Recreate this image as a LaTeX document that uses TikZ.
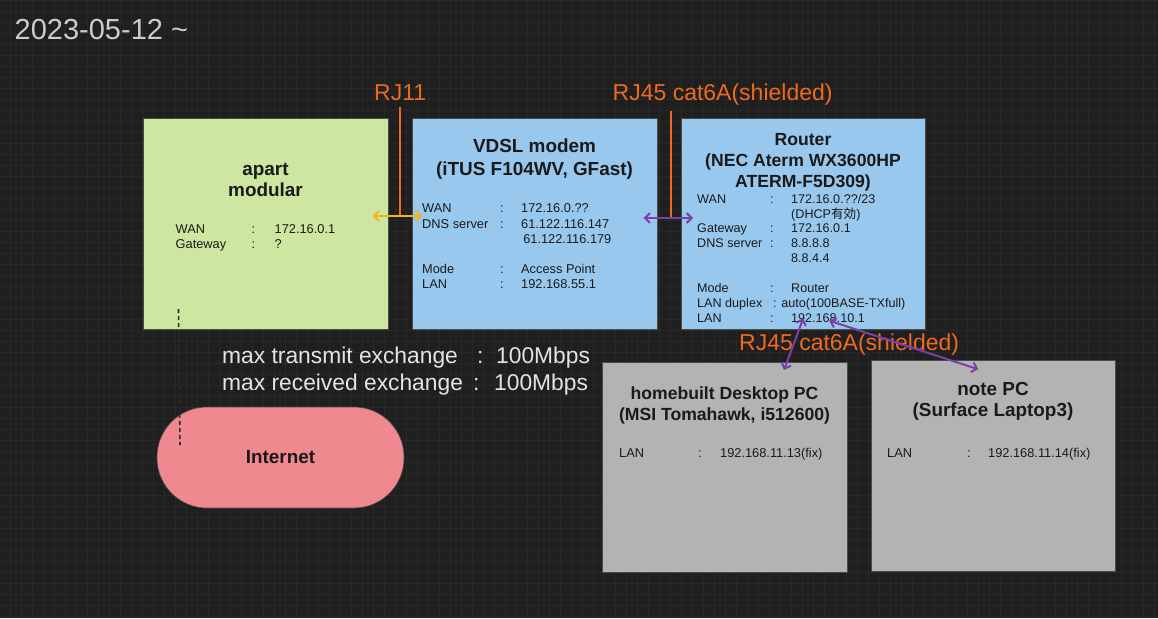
\documentclass[tikz,border=0pt]{standalone}
\usepackage{fontspec}
\usepackage{array}
\setmainfont{Liberation Sans}
\newfontfamily\cjk{Noto Sans CJK JP}
\usetikzlibrary{arrows.meta}

\definecolor{bg}{HTML}{1F1F1F}
\definecolor{gridc}{HTML}{282828}
\definecolor{greenbox}{HTML}{CDE6A0}
\definecolor{bluebox}{HTML}{99C8EE}
\definecolor{graybox}{HTML}{B3B3B3}
\definecolor{pinkbox}{HTML}{F0888F}
\definecolor{orangec}{HTML}{EE6A1F}
\definecolor{purplec}{HTML}{7B3FA8}
\definecolor{yellowc}{HTML}{F4B41A}
\definecolor{titlec}{HTML}{CCCCCC}
\definecolor{notec}{HTML}{E4E4E4}
\definecolor{inkc}{HTML}{1A1A1A}
\definecolor{dashc}{HTML}{2C2C2C}
\definecolor{edgec}{HTML}{4A4A4A}

\tikzset{
  boxnode/.style={draw=edgec, line width=0.6pt, inner sep=0pt, outer sep=0pt, anchor=north west},
  ttl/.style={text=inkc, font=\fontsize{18.9}{21.7}\selectfont\bfseries, anchor=base, inner sep=0pt},
  info/.style={text=inkc, font=\fontsize{12.8}{15.2}\selectfont, anchor=base west, inner sep=0pt},
  rjlabel/.style={text=orangec, font=\fontsize{23}{27}\selectfont, anchor=base west, inner sep=0pt},
  biarrow/.style={line width=2pt, {Straight Barb[length=5pt,width=10pt]}-{Straight Barb[length=5pt,width=10pt]}},
  tapline/.style={draw=orangec, line width=2pt},
  gridln/.style={draw=gridc, line width=0.7pt},
  hiddendash/.style={draw=dashc, line width=1.6pt, dash pattern=on 4pt off 3pt},
}

\begin{document}
\begin{tikzpicture}[x=1pt,y=-1pt]
\useasboundingbox (0,0) rectangle (1158,618);
\fill[bg] (0,0) rectangle (1158,618);
\foreach \k in {0,...,105} {\draw[gridln] (10+11*\k,0) -- (10+11*\k,618);}
\foreach \k in {0,...,56} {\draw[gridln] (0,11*\k) -- (1158,11*\k);}

% date
\node[anchor=base west, text=titlec, font=\fontsize{29}{34}\selectfont, inner sep=0pt] (date) at (14.5,39.5) {2023-05-12 \textasciitilde};

% boxes
\node[boxnode, fill=greenbox, minimum width=245pt, minimum height=210.5pt] (apart) at (143,118.5) {};
\node[boxnode, fill=bluebox, minimum width=245pt, minimum height=210.5pt] (vdsl) at (412,118.5) {};
\node[boxnode, fill=bluebox, minimum width=244pt, minimum height=211pt] (router) at (681,118.5) {};
\node[boxnode, fill=graybox, minimum width=245pt, minimum height=210pt] (desk) at (602,362) {};
\node[boxnode, fill=graybox, minimum width=244pt, minimum height=211pt] (note) at (871,360) {};
\node[draw=edgec, line width=0.6pt, fill=pinkbox, rounded corners=50pt, minimum width=247pt, minimum height=101pt, inner sep=0pt, text=inkc, font=\fontsize{18.9}{22}\selectfont\bfseries] (inet) at (280.5,457.5) {Internet};

% titles
\node[ttl] (apartT) at (265.5,175.1) {\begin{tabular}[t]{@{}c@{}}apart\\modular\end{tabular}};
\node[ttl, font=\fontsize{18.9}{22.3}\selectfont\bfseries] (vdslT) at (534.5,152.8) {\begin{tabular}[t]{@{}c@{}}VDSL modem\\(iTUS F104WV, GFast)\end{tabular}};
\node[ttl, font=\fontsize{17.6}{20.7}\selectfont\bfseries] (routerT) at (803,145.6) {\begin{tabular}[t]{@{}c@{}}Router\\(NEC Aterm WX3600HP\\ATERM-F5D309)\end{tabular}};
\node[ttl, font=\fontsize{17.6}{21.6}\selectfont\bfseries] (deskT) at (724.5,399) {\begin{tabular}[t]{@{}c@{}}homebuilt Desktop PC\\(MSI Tomahawk, i512600)\end{tabular}};
\node[ttl] (noteT) at (993,395.1) {\begin{tabular}[t]{@{}c@{}}note PC\\(Surface Laptop3)\end{tabular}};

% info blocks
\node[info, font=\fontsize{12.8}{15.3}\selectfont] (apartI) at (175.5,233.6) {\begin{tabular}[t]{@{}w{l}{76pt}@{}w{l}{23pt}@{}l@{}}
WAN & : & 172.16.0.1\\
Gateway & : & ?
\end{tabular}};
\node[info] (vdslI) at (422,212.9) {\begin{tabular}[t]{@{}w{l}{78pt}@{}w{l}{21pt}@{}l@{}}
WAN & : & 172.16.0.??\\
DNS server & : & 61.122.116.147\\
 & & \,61.122.116.179\\
 & & \\
Mode & : & Access Point\\
LAN & : & 192.168.55.1
\end{tabular}};
\node[info, font=\fontsize{12.6}{14.9}\selectfont] (routerI) at (697,203) {\begin{tabular}[t]{@{}w{l}{73pt}@{}w{l}{21pt}@{}l@{}}
WAN & : & 172.16.0.??/23\\
 & & (DHCP{\cjk 有効})\\
Gateway & : & 172.16.0.1\\
DNS server & : & 8.8.8.8\\
 & & 8.8.4.4\\
 & & \\
Mode & : & Router\\
\multicolumn{3}{@{}l@{}}{\makebox[76pt][l]{LAN duplex}: auto(100BASE-TXfull)}\\
LAN & : & 192.168.10.1
\end{tabular}};
\node[info] (deskI) at (619,457) {\begin{tabular}[t]{@{}w{l}{79pt}@{}w{l}{22pt}@{}l@{}}
LAN & : & 192.168.11.13(fix)
\end{tabular}};
\node[info] (noteI) at (887,457) {\begin{tabular}[t]{@{}w{l}{80pt}@{}w{l}{21pt}@{}l@{}}
LAN & : & 192.168.11.14(fix)
\end{tabular}};

% max text
\node[anchor=base west, inner sep=0pt, text=notec, font=\fontsize{22.8}{27}\selectfont] (maxT) at (222,363) {\begin{tabular}[t]{@{}l@{}}\makebox[255pt][l]{max transmit exchange}\makebox[19pt][l]{:}100Mbps\\\makebox[251pt][l]{max received exchange}\makebox[21pt][l]{:}100Mbps\end{tabular}};

% cable labels
\node[rjlabel] (rj11) at (374,100) {RJ11};
\node[rjlabel] (rj45a) at (612.5,100) {RJ45 cat6A(shielded)};
\node[rjlabel] (rj45b) at (739,350) {RJ45 cat6A(shielded)};

% connector points
\coordinate (ya1) at ([shift={(229.5,97.5)}]apart.north west);
\coordinate (ya2) at ([shift={(10,97.5)}]vdsl.north west);
\coordinate (pa1) at ([shift={(231.5,99.5)}]vdsl.north west);
\coordinate (pa2) at ([shift={(12,99.5)}]router.north west);
\coordinate (r1) at ([shift={(122.3,199.8)}]router.north west);
\coordinate (r2) at ([shift={(148.3,202.2)}]router.north west);
\coordinate (d1) at ([shift={(182,8)}]desk.north west);
\coordinate (n1) at ([shift={(107.3,9.3)}]note.north west);
\coordinate (o1) at ([shift={(26,7)}]rj11.base west);
\coordinate (o2) at ([shift={(58.5,10.5)}]rj45a.base west);
\coordinate (dsA) at ([shift={(35.5,190.5)}]apart.north west);
\coordinate (dsB) at ([shift={(-100.5,-12.5)}]inet.center);

% connectors
\draw[hiddendash] (dsA) -- (dsB);
\draw[tapline] (o1) -- (o1 |- ya1);
\draw[tapline] (o2) -- (o2 |- pa1);
\draw[biarrow, yellowc] (ya1) -- (ya2);
\draw[biarrow, purplec] (pa1) -- (pa2);
\draw[biarrow, purplec] (r1) -- (d1);
\draw[biarrow, purplec] (r2) -- (n1);
\end{tikzpicture}
\end{document}
